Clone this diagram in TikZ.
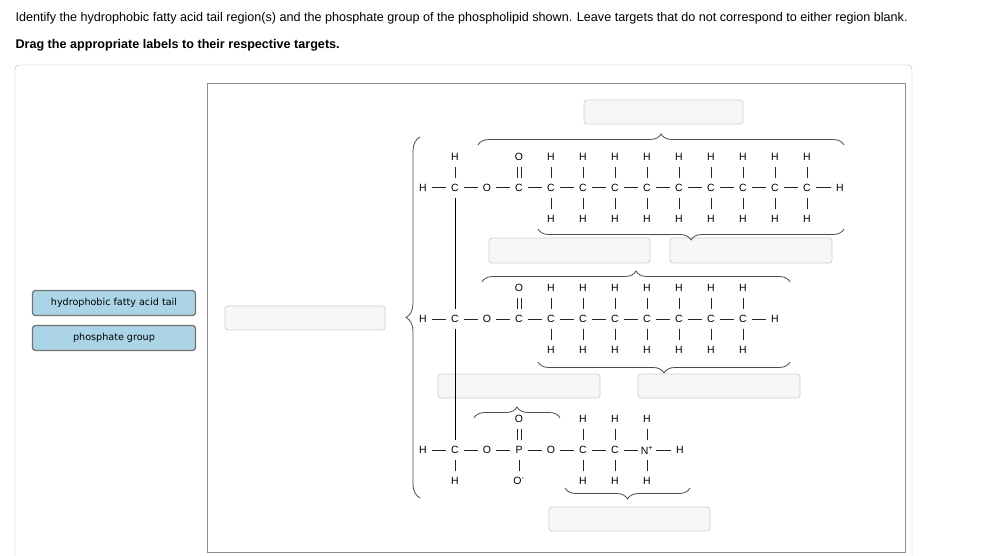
\documentclass[tikz,border=0pt]{standalone}
\usepackage{fontspec}
\setmainfont{Liberation Sans}
\newfontfamily\lblfont{DejaVu Sans}
\usetikzlibrary{decorations.pathreplacing,shadows}
\definecolor{lblblue}{RGB}{171,212,230}
\begin{document}
\begin{tikzpicture}[x=1pt,y=-1pt,
  atm/.style={inner sep=0pt,minimum width=17pt,minimum height=19pt,font=\fontsize{10.5}{12}\selectfont},
  bond/.style={draw=black!85,line width=1pt},
  tgt/.style={draw=black!18,fill=black!3,rounded corners=3pt,line width=0.8pt},
  lbl/.style={draw=black!55,fill=lblblue,rounded corners=3pt,line width=1.3pt,minimum width=163pt,minimum height=25pt,font=\lblfont\fontsize{9.6}{11}\selectfont},
  brc/.style={draw=black!70,line width=0.8pt,decorate,decoration={brace,amplitude=11pt,aspect=0.5}},
  hd/.style={anchor=west,font=\fontsize{12.6}{14}\selectfont}]
\useasboundingbox (0,0) rectangle (998,556);
\node[hd] (q1) at (12,18) {Identify the hydrophobic fatty acid tail region(s) and the phosphate group of the phospholipid shown. Leave targets that do not correspond to either region blank.};
\node[hd,font=\bfseries\fontsize{12.6}{14}\selectfont] (q2) at (12,45) {Drag the appropriate labels to their respective targets.};
\draw[black!30,rounded corners=4pt] (15,65) rectangle (912,560);
\draw[black!45,line width=1pt,fill=white,drop shadow={shadow xshift=1pt,shadow yshift=-1pt,opacity=0.3}] (207,84) rectangle (905,552);
\node[lbl] (L1) at (114,303) {hydrophobic fatty acid tail};
\node[lbl] (L2) at (114,338) {phosphate group};
% targets
\draw[tgt] (584,100) rectangle (743,124);
\draw[tgt] (489,238) rectangle (650,263);
\draw[tgt] (670,238) rectangle (832,263);
\draw[tgt] (225,306) rectangle (385,330);
\draw[tgt] (438,374) rectangle (600,398);
\draw[tgt] (638,374) rectangle (800,398);
\draw[tgt] (549,507) rectangle (710,531);
% braces
\draw[brc] (478,145) -- (844,145);
\draw[brc] (844,229) -- (538,229);
\draw[brc] (482,282) -- (790,282);
\draw[brc] (790,362) -- (538,362);
\draw[brc] (474,418) -- (560,418);
\draw[brc] (690,488) -- (565,488);
\draw[brc,decoration={brace,amplitude=14pt}] (420,498) -- (420,137);
% row 1
\node[atm] (r1h) at (423,188) {H};
\node[atm] (r1c) at (455,188) {C};
\node[atm] (r1ct) at (455,157) {H};
\node[atm] (r1o) at (487,188) {O};
\node[atm] (r1k) at (519,188) {C};
\node[atm] (r1ko) at (519,157) {O};
\draw[bond] (r1h) -- (r1c) (r1c) -- (r1o) (r1o) -- (r1k) (r1c) -- (r1ct);
\draw[bond] ([xshift=-2pt]r1ko.south) -- ([xshift=-2pt]r1k.north) ([xshift=2pt]r1ko.south) -- ([xshift=2pt]r1k.north);
\foreach \i in {1,...,9}{
  \node[atm] (a\i) at (519+32*\i,188) {C};
  \node[atm] (a\i t) at (519+32*\i,157) {H};
  \node[atm] (a\i b) at (519+32*\i,219) {H};
  \draw[bond] (a\i) -- (a\i t) (a\i) -- (a\i b);
}
\node[atm] (r1e) at (840,188) {H};
\draw[bond] (r1k) -- (a1);
\foreach \i [evaluate=\i as \j using int(\i+1)] in {1,...,8}{\draw[bond] (a\i) -- (a\j);}
\draw[bond] (a9) -- (r1e);
% row 2
\node[atm] (r2h) at (423,319) {H};
\node[atm] (r2c) at (455,319) {C};
\node[atm] (r2o) at (487,319) {O};
\node[atm] (r2k) at (519,319) {C};
\node[atm] (r2ko) at (519,288) {O};
\draw[bond] (r2h) -- (r2c) (r2c) -- (r2o) (r2o) -- (r2k);
\draw[bond] ([xshift=-2pt]r2ko.south) -- ([xshift=-2pt]r2k.north) ([xshift=2pt]r2ko.south) -- ([xshift=2pt]r2k.north);
\foreach \i in {1,...,7}{
  \node[atm] (b\i) at (519+32*\i,319) {C};
  \node[atm] (b\i t) at (519+32*\i,288) {H};
  \node[atm] (b\i b) at (519+32*\i,350) {H};
  \draw[bond] (b\i) -- (b\i t) (b\i) -- (b\i b);
}
\node[atm] (r2e) at (775,319) {H};
\draw[bond] (r2k) -- (b1);
\foreach \i [evaluate=\i as \j using int(\i+1)] in {1,...,6}{\draw[bond] (b\i) -- (b\j);}
\draw[bond] (b7) -- (r2e);
% row 3
\node[atm] (r3h) at (423,450) {H};
\node[atm] (r3c) at (455,450) {C};
\node[atm] (r3cb) at (455,481) {H};
\node[atm] (r3o) at (487,450) {O};
\node[atm] (r3p) at (519,450) {P};
\node[atm] (r3po) at (519,419) {O};
\node[atm] (r3pm) at (519,481) {O\textsuperscript{-}};
\node[atm] (r3o2) at (551,450) {O};
\node[atm] (d1) at (583,450) {C};
\node[atm] (d2) at (615,450) {C};
\node[atm] (d3) at (647,450) {N\textsuperscript{+}};
\node[atm] (r3e) at (680,450) {H};
\foreach \n/\x in {d1/583,d2/615,d3/647}{
  \node[atm] (\n t) at (\x,419) {H};
  \node[atm] (\n b) at (\x,481) {H};
  \draw[bond] (\n) -- (\n t) (\n) -- (\n b);
}
\draw[bond] (r3h) -- (r3c) (r3c) -- (r3o) (r3o) -- (r3p) (r3p) -- (r3o2) (r3o2) -- (d1) (d1) -- (d2) (d2) -- (d3) (d3) -- (r3e) (r3c) -- (r3cb) (r3p) -- (r3pm);
\draw[bond] ([xshift=-2pt]r3po.south) -- ([xshift=-2pt]r3p.north) ([xshift=2pt]r3po.south) -- ([xshift=2pt]r3p.north);
% backbone
\draw[line width=0.9pt] (r1c) -- (r2c) (r2c) -- (r3c);
\end{tikzpicture}
\end{document}
